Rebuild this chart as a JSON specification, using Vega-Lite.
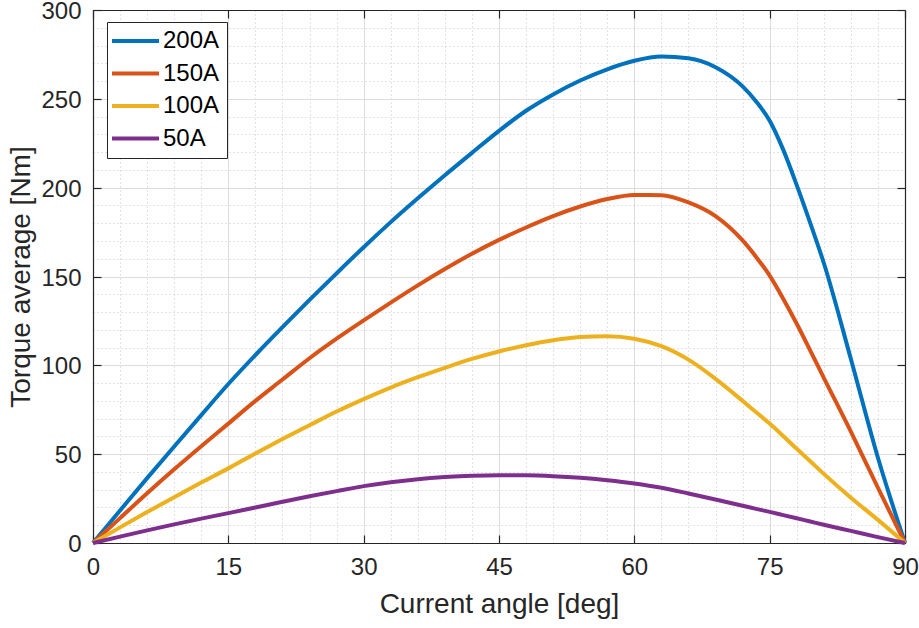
{
  "$schema": "https://vega.github.io/schema/vega-lite/v6.json",
  "width": 812,
  "height": 533,
  "autosize": {"type": "none"},
  "padding": {"left": 93, "top": 10, "right": 14, "bottom": 85},
  "background": "white",
  "config": {
    "font": "Liberation Sans",
    "view": {"stroke": null},
    "axis": {"labelFont": "Liberation Sans", "titleFont": "Liberation Sans", "labelColor": "#262626", "titleColor": "#262626", "titleFontWeight": "normal", "labelFlush": false}
  },
  "data": {
    "values": [
      {"angle": 0, "200A": 0, "150A": 0, "100A": 0, "50A": 0},
      {"angle": 3, "200A": 18.3, "150A": 14, "100A": 8.8, "50A": 3.6},
      {"angle": 6, "200A": 36.5, "150A": 28, "100A": 17.4, "50A": 7.1},
      {"angle": 9, "200A": 54.3, "150A": 41.5, "100A": 25.8, "50A": 10.5},
      {"angle": 12, "200A": 72, "150A": 54.5, "100A": 34, "50A": 13.7},
      {"angle": 15, "200A": 89.5, "150A": 67.2, "100A": 42, "50A": 16.8},
      {"angle": 18, "200A": 105.8, "150A": 80, "100A": 50.4, "50A": 20},
      {"angle": 21, "200A": 121.5, "150A": 92, "100A": 58.5, "50A": 23.2},
      {"angle": 24, "200A": 136.8, "150A": 104, "100A": 66.3, "50A": 26.3},
      {"angle": 27, "200A": 151.8, "150A": 115, "100A": 74, "50A": 29.2},
      {"angle": 30, "200A": 166.5, "150A": 125.3, "100A": 81, "50A": 32},
      {"angle": 33, "200A": 180.6, "150A": 135.3, "100A": 87.5, "50A": 34.2},
      {"angle": 36, "200A": 194, "150A": 145, "100A": 93.3, "50A": 35.9},
      {"angle": 39, "200A": 207, "150A": 154.2, "100A": 98.6, "50A": 37.1},
      {"angle": 42, "200A": 219.6, "150A": 162.8, "100A": 103.6, "50A": 37.9},
      {"angle": 45, "200A": 232, "150A": 170.6, "100A": 107.8, "50A": 38.2},
      {"angle": 48, "200A": 243.3, "150A": 177.6, "100A": 111.3, "50A": 38.1},
      {"angle": 51, "200A": 252.5, "150A": 184, "100A": 114.1, "50A": 37.6},
      {"angle": 54, "200A": 260.3, "150A": 189.4, "100A": 115.9, "50A": 36.7},
      {"angle": 57, "200A": 266.6, "150A": 193.6, "100A": 116.4, "50A": 35.3},
      {"angle": 60, "200A": 271.4, "150A": 195.9, "100A": 115, "50A": 33.5},
      {"angle": 63, "200A": 273.8, "150A": 195.8, "100A": 110.8, "50A": 31.1},
      {"angle": 66, "200A": 272.8, "150A": 191.7, "100A": 103.2, "50A": 27.9},
      {"angle": 69, "200A": 267.8, "150A": 184, "100A": 92.4, "50A": 24.5},
      {"angle": 72, "200A": 257, "150A": 170.3, "100A": 80, "50A": 21},
      {"angle": 73.5, "200A": 248.5, "150A": 161, "100A": 73.6, "50A": 19.2},
      {"angle": 75, "200A": 237.7, "150A": 150.5, "100A": 67.2, "50A": 17.5},
      {"angle": 76.5, "200A": 221.4, "150A": 137.5, "100A": 60.2, "50A": 15.7},
      {"angle": 78, "200A": 201.4, "150A": 123.4, "100A": 53, "50A": 13.9},
      {"angle": 79.5, "200A": 180, "150A": 108.3, "100A": 46, "50A": 12.1},
      {"angle": 81, "200A": 157.6, "150A": 93, "100A": 38.9, "50A": 10.3},
      {"angle": 84, "200A": 103.6, "150A": 62.7, "100A": 25.5, "50A": 6.8},
      {"angle": 87, "200A": 48, "150A": 31.1, "100A": 13, "50A": 3.3},
      {"angle": 90, "200A": 0, "150A": 0, "100A": 0, "50A": 0}
    ]
  },
  "transform": [{"fold": ["200A", "150A", "100A", "50A"], "as": ["current", "torque"]}],
  "layer": [
    {
      "mark": {"type": "line", "opacity": 0},
      "encoding": {
        "x": {"field": "angle", "type": "quantitative", "scale": {"domain": [0, 90], "nice": false},
          "axis": {"orient": "bottom", "values": [3,6,9,12,18,21,24,27,33,36,39,42,48,51,54,57,63,66,69,72,78,81,84,87], "grid": true, "gridDash": [1, 3], "gridColor": "#c6c6c6", "gridWidth": 1, "labels": false, "ticks": false, "domain": false, "title": null}},
        "y": {"field": "torque", "type": "quantitative", "scale": {"domain": [0, 300], "nice": false},
          "axis": {"orient": "left", "values": [10,20,30,40,60,70,80,90,110,120,130,140,160,170,180,190,210,220,230,240,260,270,280,290], "grid": true, "gridDash": [1, 3], "gridColor": "#c6c6c6", "gridWidth": 1, "labels": false, "ticks": false, "domain": false, "title": null}},
        "detail": {"field": "current"}
      }
    },
    {
      "mark": {"type": "line", "opacity": 0},
      "encoding": {
        "x": {"field": "angle", "type": "quantitative", "scale": {"domain": [0, 90], "nice": false},
          "axis": {"orient": "bottom", "values": [0, 15, 30, 45, 60, 75, 90], "grid": true, "gridColor": "#dcdcdc", "gridWidth": 1, "domain": true, "domainColor": "#262626", "domainWidth": 1.2, "ticks": true, "tickColor": "#262626", "tickWidth": 1.2, "tickSize": -8, "labelPadding": 20, "labelFontSize": 24, "title": "Current angle [deg]", "titleFontSize": 28, "titlePadding": 11}},
        "y": {"field": "torque", "type": "quantitative", "scale": {"domain": [0, 300], "nice": false},
          "axis": {"orient": "left", "values": [0, 50, 100, 150, 200, 250, 300], "grid": true, "gridColor": "#dcdcdc", "gridWidth": 1, "domain": true, "domainColor": "#262626", "domainWidth": 1.2, "ticks": true, "tickColor": "#262626", "tickWidth": 1.2, "tickSize": -8, "labelPadding": 20, "labelOffset": 1.5, "labelFontSize": 24, "title": "Torque average [Nm]", "titleFontSize": 28, "titlePadding": 5}},
        "detail": {"field": "current"}
      }
    },
    {
      "mark": {"type": "line", "opacity": 0},
      "encoding": {
        "x": {"field": "angle", "type": "quantitative", "scale": {"domain": [0, 90], "nice": false},
          "axis": {"orient": "top", "values": [0, 15, 30, 45, 60, 75, 90], "grid": false, "domain": true, "domainColor": "#262626", "domainWidth": 1.2, "ticks": true, "tickColor": "#262626", "tickWidth": 1.2, "tickSize": -8, "labels": false, "title": null}},
        "y": {"field": "torque", "type": "quantitative", "scale": {"domain": [0, 300], "nice": false},
          "axis": {"orient": "right", "values": [0, 50, 100, 150, 200, 250, 300], "grid": false, "domain": true, "domainColor": "#262626", "domainWidth": 1.2, "ticks": true, "tickColor": "#262626", "tickWidth": 1.2, "tickSize": -8, "labels": false, "title": null}},
        "detail": {"field": "current"}
      }
    },
    {
      "mark": {"type": "line", "strokeWidth": 4, "strokeJoin": "round", "interpolate": "monotone"},
      "encoding": {
        "x": {"field": "angle", "type": "quantitative", "scale": {"domain": [0, 90], "nice": false}, "axis": null},
        "y": {"field": "torque", "type": "quantitative", "scale": {"domain": [0, 300], "nice": false}, "axis": null},
        "color": {"field": "current", "type": "nominal",
          "scale": {"domain": ["200A", "150A", "100A", "50A"], "range": ["#0072BD", "#D95319", "#EDB120", "#7E2F8E"]},
          "legend": {"orient": "none", "legendX": 14, "legendY": 12, "title": null, "symbolType": "M-1.4,0H3.3", "symbolSize": 400, "symbolStrokeWidth": 4, "labelFontSize": 24, "labelFont": "Liberation Sans", "labelColor": "#000000", "labelOffset": 25, "strokeColor": "#262626", "fillColor": "white", "padding": 7, "rowPadding": 8.5}}
      }
    }
  ],
  "resolve": {"axis": {"x": "independent", "y": "independent"}}
}
